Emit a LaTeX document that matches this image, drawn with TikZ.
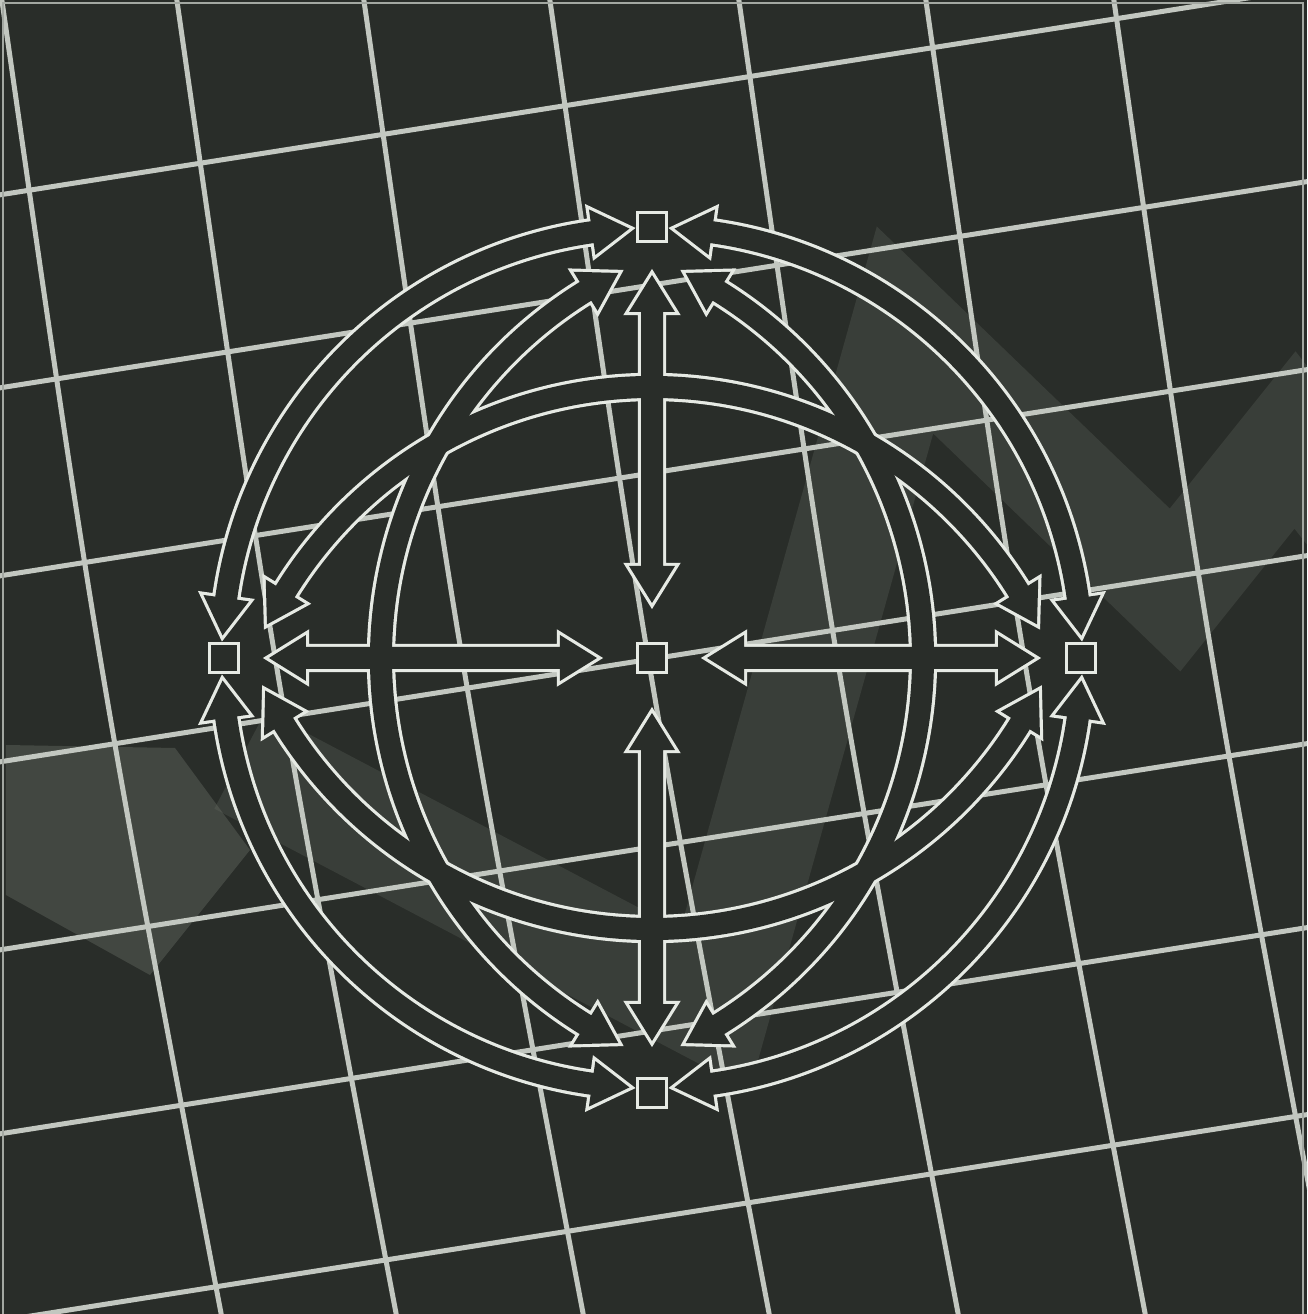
\documentclass[tikz,border=0pt]{standalone}
\usetikzlibrary{calc}
\definecolor{board}{HTML}{292D29}
\definecolor{wire}{HTML}{C2C7C0}
\definecolor{ink}{HTML}{E6EAE4}
\definecolor{smoke}{HTML}{666B63}

% hollow double arrow on the x axis, tips at #1 and #2
\newcommand{\barband}[2]{(#1,0) -- (#1+37,23) -- (#1+37,11) -- (#2-37,11) -- (#2-37,23) -- (#2,0) -- (#2-37,-23) -- (#2-37,-11) -- (#1+37,-11) -- (#1+37,-23) -- cycle}
% hollow double arrow on a circle of radius #1, tips at angles #2 and #3
\newcommand{\ringband}[3]{(#2:#1) -- (#2+5:#1+23) -- (#2+5:#1+11) arc[start angle=#2+5,end angle=#3-5,radius=#1+11] -- (#3-5:#1+23) -- (#3:#1) -- (#3-5:#1-23) -- (#3-5:#1-11) arc[start angle=#3-5,end angle=#2+5,radius=#1-11] -- (#2+5:#1-23) -- cycle}
% every band of the globe; called once for the outline, once for the fill
\newcommand{\allbands}[1]{%
  \foreach \a in {0,90,180,270} \path[#1,rotate=\a] \barband{55}{383};
  \foreach \a in {3,93,183,273} \path[#1] \ringband{430}{\a}{\a+84};
  \path[#1,shift={(160,0)}] \ringband{431}{116.7}{243.3};
  \path[#1,shift={(-160,0)}] \ringband{431}{-63.3}{63.3};
  \path[#1,shift={(0,-160)}] \ringband{431}{26.7}{153.3};
  \path[#1,shift={(0,162)}] \ringband{433}{206.7}{333.3};
}

\tikzset{
  gridline/.style={wire,line width=5pt},
  cell/.style={draw=ink,fill=board,line width=3.2pt,minimum size=29pt,inner sep=0pt},
}

\begin{document}
\begin{tikzpicture}[x=1pt,y=1pt]
\useasboundingbox (-652,-656) rectangle (655,658);
\clip (-652,-656) rectangle (655,658);
\fill[board] (-652,-656) rectangle (655,658);

% background: ribbon and tilted grid, in picture pixels
\begin{scope}[shift={(-652,658)},yscale=-1]
\fill[smoke,opacity=.42] (6,745) -- (175,748) -- (250,850) -- (150,975) -- (6,895) -- cycle;
\draw[smoke,opacity=.28,line width=110pt,line join=miter] (240,760) -- (715,1010) -- (905,330) -- (1175,590) -- (1295,440) -- (1420,600);
\foreach \y in {195,388,576,762,950,1134,1321} \draw[gridline] (-20,\y+3) -- (1330,\y-210);
\foreach \x in {2,177,364,550,739,926,1114} \draw[gridline] (\x-3,-20) .. controls (\x+94,657) .. (\x+223,1334);
\draw[wire!80!board,line width=1.6pt] (3,1314) -- (3,3) -- (1303,3) -- (1303,1314);
\end{scope}

% the five cells
\node[cell] (hub) at (0,0) {};
\node[cell] (top) at (0,431) {};
\node[cell] (bot) at (0,-435) {};
\node[cell] (lft) at (-428,0) {};
\node[cell] (rgt) at (429,0) {};

% hollow arrows: outline of the union, then the inside
\allbands{draw=ink,line width=6.4pt,line join=miter}
\allbands{fill=board}
\end{tikzpicture}
\end{document}
